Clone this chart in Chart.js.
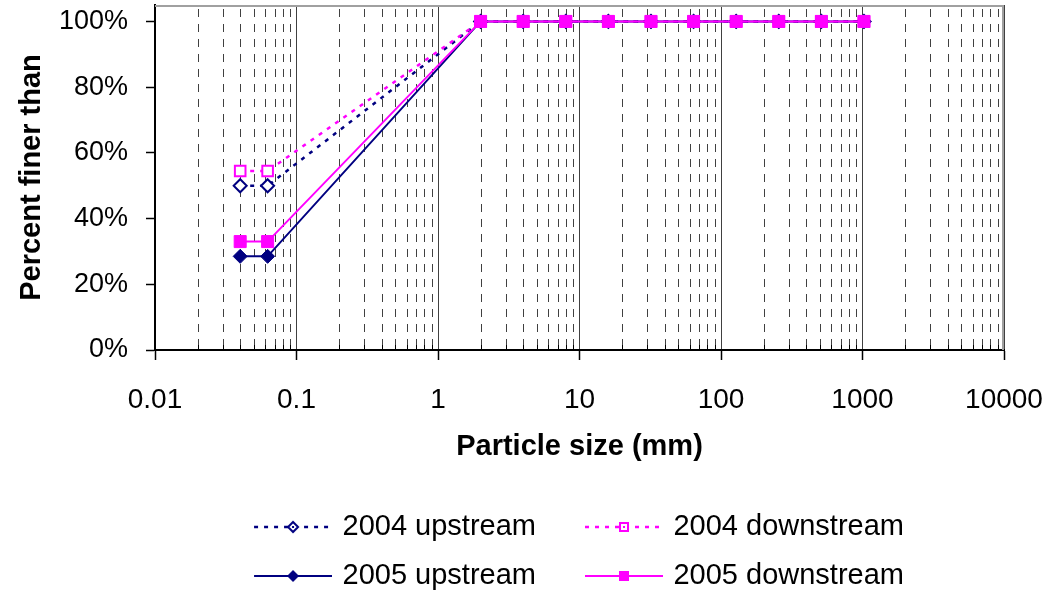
<!DOCTYPE html>
<html>
<head>
<meta charset="utf-8">
<script src="https://cdn.jsdelivr.net/npm/chart.js@4.4.1/dist/chart.umd.min.js"></script>
<style>
  html, body { margin: 0; padding: 0; background: #ffffff; }
  #wrap { width: 1049px; height: 590px; position: relative; }
</style>
</head>
<body>
<div id="wrap"><canvas id="chart" width="1049" height="590"></canvas></div>
<script>
// ---- Data ----
const particleSizes   = [0.04, 0.0625, 2, 4, 8, 16, 32, 64, 128, 256, 512, 1024];
const upstream2004    = [50, 50, 100, 100, 100, 100, 100, 100, 100, 100, 100, 100];
const downstream2004  = [54.5, 54.5, 100, 100, 100, 100, 100, 100, 100, 100, 100, 100];
const upstream2005    = [28.5, 28.5, 100, 100, 100, 100, 100, 100, 100, 100, 100, 100];
const downstream2005  = [33, 33, 100, 100, 100, 100, 100, 100, 100, 100, 100, 100];
const seriesNames     = ['2004 upstream', '2004 downstream', '2005 upstream', '2005 downstream'];
const xDecadeTicks    = [0.01, 0.1, 1, 10, 100, 1000, 10000];
const xDecadeLabels   = ['0.01', '0.1', '1', '10', '100', '1000', '10000'];
const yTickValues     = [0, 20, 40, 60, 80, 100];
const xTitle = 'Particle size (mm)';
const yTitle = 'Percent finer than';

Chart.defaults.font.family = '"Liberation Sans", Arial, sans-serif';
Chart.defaults.color = '#000000';

const NAVY = '#000080';
const MAGENTA = '#FF00FF';
const LAYOUT_LEFT = 5;

function toPoints(values) {
  return particleSizes.map((s, i) => ({ x: s, y: values[i] }));
}

// legend sample images (line + marker)
function legendSample(color, dashed, marker, filled) {
  const W = 111, H = 22;
  const c = document.createElement('canvas');
  c.width = W; c.height = H;
  const g = c.getContext('2d');
  const y = H / 2;
  g.strokeStyle = color;
  g.lineWidth = dashed ? 2.5 : 2;
  g.setLineDash(dashed ? [4, 6] : []);
  g.beginPath();
  g.moveTo(W - 78, y);
  g.lineTo(W, y);
  g.stroke();
  g.setLineDash([]);
  const cx = W - 39;
  g.beginPath();
  if (marker === 'diamond') {
    const r = filled ? 6 : 5;
    g.moveTo(cx, y - r); g.lineTo(cx + r, y); g.lineTo(cx, y + r); g.lineTo(cx - r, y); g.closePath();
  } else {
    const h = filled ? 5 : 4;
    g.rect(cx - h, y - h, 2 * h, 2 * h);
  }
  if (filled) {
    g.fillStyle = color; g.fill();
  } else {
    g.fillStyle = '#ffffff'; g.fill();
    g.lineWidth = 2; g.strokeStyle = color; g.stroke();
    g.fillStyle = color; g.fillRect(cx - 1, y - 1, 2, 2);
  }
  return c;
}

const datasets = [
  {
    label: seriesNames[0], data: toPoints(upstream2004),
    borderColor: NAVY, borderWidth: 2.5, borderDash: [4, 6],
    pointStyle: 'rectRot', pointRadius: 6.5, pointBorderWidth: 2,
    pointBackgroundColor: '#ffffff', pointBorderColor: NAVY, order: 4,
    legendImg: legendSample(NAVY, true, 'diamond', false)
  },
  {
    label: seriesNames[1], data: toPoints(downstream2004),
    borderColor: MAGENTA, borderWidth: 2.5, borderDash: [4, 6],
    pointStyle: 'rect', pointRadius: 7.5, pointBorderWidth: 2,
    pointBackgroundColor: '#ffffff', pointBorderColor: MAGENTA, order: 3,
    legendImg: legendSample(MAGENTA, true, 'square', false)
  },
  {
    label: seriesNames[2], data: toPoints(upstream2005),
    borderColor: NAVY, borderWidth: 2,
    pointStyle: 'rectRot', pointRadius: 7, pointBorderWidth: 1,
    pointBackgroundColor: NAVY, pointBorderColor: NAVY, order: 2,
    legendImg: legendSample(NAVY, false, 'diamond', true)
  },
  {
    label: seriesNames[3], data: toPoints(downstream2005),
    borderColor: MAGENTA, borderWidth: 2,
    pointStyle: 'rect', pointRadius: 8.5, pointBorderWidth: 1,
    pointBackgroundColor: MAGENTA, pointBorderColor: MAGENTA, order: 1,
    legendImg: legendSample(MAGENTA, false, 'square', true)
  }
];

// draws dashed minor grid, inner minor ticks and grey plot border
const plotFrame = {
  id: 'plotFrame',
  beforeDatasetsDraw(chart) {
    const { ctx, chartArea: a } = chart;
    const xs = chart.scales.x;
    ctx.save();
    ctx.lineWidth = 1;
    xs.ticks.forEach(t => {
      if (t.major) return;
      const px = Math.round(xs.getPixelForValue(t.value)) + 0.5;
      ctx.strokeStyle = '#404040';
      ctx.setLineDash([8, 7]);
      ctx.beginPath(); ctx.moveTo(px, a.top + 4); ctx.lineTo(px, a.bottom); ctx.stroke();
      ctx.setLineDash([]);
      ctx.strokeStyle = '#000000';
      ctx.beginPath(); ctx.moveTo(px, a.bottom - 5); ctx.lineTo(px, a.bottom); ctx.stroke();
    });
    ctx.strokeStyle = '#a0a0a0';
    ctx.lineWidth = 2;
    ctx.beginPath();
    ctx.moveTo(a.left, a.top + 1);
    ctx.lineTo(a.right - 1, a.top + 1);
    ctx.lineTo(a.right - 1, a.bottom);
    ctx.stroke();
    ctx.restore();
  },
  afterLayout(chart) {
    if (chart.legend) { chart.legend.left -= 15; chart.legend.right -= 15; }
  }
};

new Chart(document.getElementById('chart'), {
  type: 'line',
  data: { datasets },
  plugins: [plotFrame],
  options: {
    responsive: false,
    devicePixelRatio: 1,
    animation: false,
    layout: { autoPadding: false, padding: { left: LAYOUT_LEFT, right: 45, top: 5, bottom: -10.5 } },
    elements: { line: { tension: 0, fill: false } },
    plugins: {
      tooltip: { enabled: false },
      legend: {
        position: 'bottom',
        fullSize: false,
        labels: {
          usePointStyle: true,
          pointStyleWidth: 103,
          padding: 20,
          color: '#000000',
          font: { size: 29 },
          generateLabels(chart) {
            return chart.data.datasets.map((ds, i) => ({
              text: ds.label,
              pointStyle: ds.legendImg,
              fillStyle: ds.borderColor,
              strokeStyle: ds.borderColor,
              lineWidth: 0,
              hidden: false,
              datasetIndex: i
            }));
          }
        }
      }
    },
    scales: {
      x: {
        type: 'logarithmic',
        position: 'bottom',
        min: xDecadeTicks[0],
        max: xDecadeTicks[xDecadeTicks.length - 1],
        afterBuildTicks(scale) {
          const ticks = [];
          xDecadeTicks.forEach((d, i) => {
            ticks.push({ value: d, major: true });
            if (i < xDecadeTicks.length - 1) {
              for (let m = 2; m <= 9; m++) ticks.push({ value: m * d, major: false });
            }
          });
          scale.ticks = ticks;
        },
        afterFit(scale) {
          scale.height = 142.5;
          scale.paddingLeft = 0;
          scale.paddingRight = 0;
        },
        ticks: {
          autoSkip: false,
          maxRotation: 0,
          minRotation: 0,
          padding: 23,
          color: '#000000',
          font: { size: 28 },
          callback(value, index, ticks) {
            const k = xDecadeTicks.indexOf(ticks[index].value);
            return k >= 0 ? xDecadeLabels[k] : '';
          }
        },
        grid: {
          drawOnChartArea: true,
          color: ctx => (ctx.tick && ctx.tick.major ? '#404040' : 'rgba(0,0,0,0)'),
          lineWidth: 1,
          drawTicks: true,
          tickLength: 10,
          tickWidth: 1.5,
          tickColor: ctx => (ctx.tick && ctx.tick.major ? '#000000' : 'rgba(0,0,0,0)')
        },
        border: { display: true, color: '#000000', width: 2 },
        title: {
          display: true,
          text: xTitle,
          color: '#000000',
          font: { size: 29, weight: 'bold' },
          padding: { top: 10, bottom: 28 }
        }
      },
      y: {
        type: 'linear',
        min: 0,
        max: 105,
        afterBuildTicks(scale) {
          scale.ticks = yTickValues.map(v => ({ value: v }));
        },
        afterFit(scale) {
          scale.width = 155 - LAYOUT_LEFT;
          scale.paddingTop = 0;
          scale.paddingBottom = 0;
        },
        ticks: {
          padding: 18,
          color: '#000000',
          font: { size: 27 },
          callback: v => v + '%'
        },
        grid: {
          drawOnChartArea: false,
          drawTicks: true,
          tickLength: 9,
          tickWidth: 1.5,
          tickColor: '#000000'
        },
        border: { display: true, color: '#000000', width: 2 },
        title: {
          display: true,
          text: yTitle,
          color: '#000000',
          font: { size: 29, weight: 'bold' },
          padding: { top: 10, bottom: 13 }
        }
      }
    }
  }
});
</script>
</body>
</html>
